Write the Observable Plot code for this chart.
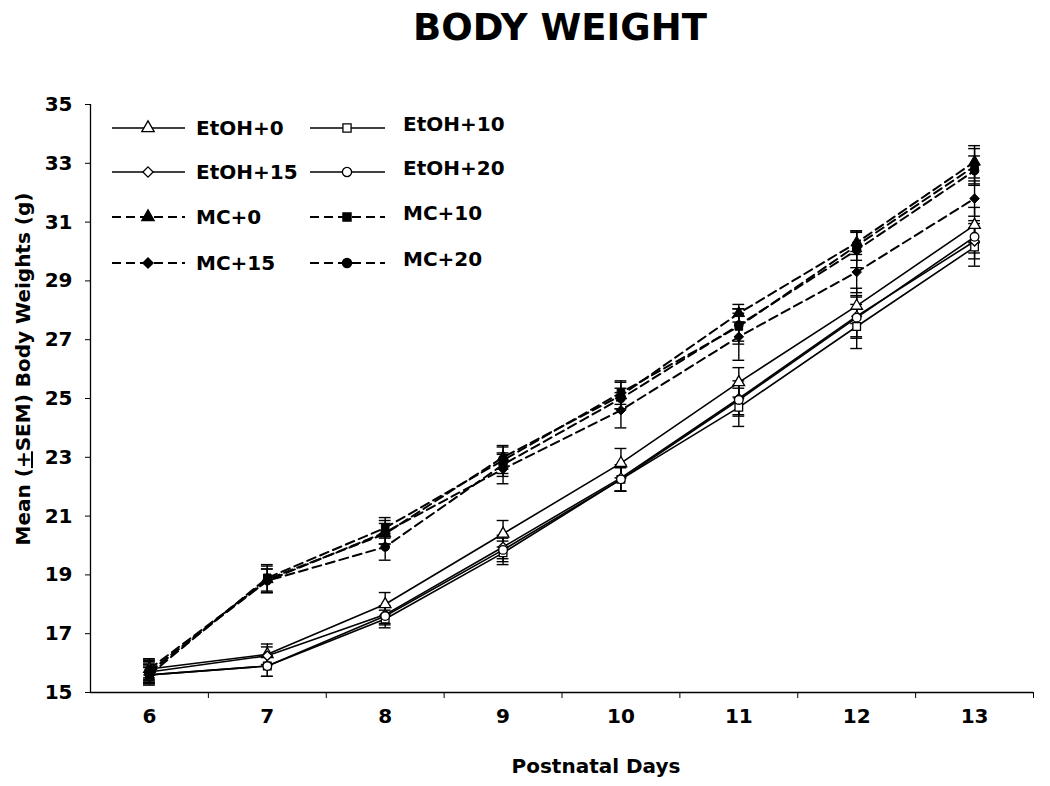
<!DOCTYPE html>
<html>
<head>
<meta charset="utf-8">
<script src="https://cdn.jsdelivr.net/npm/d3@7"></script>
<script src="https://cdn.jsdelivr.net/npm/@observablehq/plot@0.6"></script>
<style>
  body { margin: 0; background: white; font-family: "DejaVu Sans", sans-serif; }
  #title { height: 70px; line-height: 56px; font-size: 37px; font-weight: bold; text-align: center; padding-left: 70px; box-sizing: border-box; width: 1050px; color: black; }
</style>
</head>
<body>
<div id="title">BODY WEIGHT</div>
<div id="chart"></div>
<script>
// ---- data ----
const days = [6, 7, 8, 9, 10, 11, 12, 13];
const xBoundaryTicks = [6.5, 7.5, 8.5, 9.5, 10.5, 11.5, 12.5, 13.5];
const yTicks = [15, 17, 19, 21, 23, 25, 27, 29, 31, 33, 35];
const seriesNames = ["EtOH+0", "EtOH+10", "EtOH+15", "EtOH+20", "MC+0", "MC+10", "MC+15", "MC+20"];

const etoh0  = [15.8, 16.3, 18.0, 20.4, 22.8, 25.55, 28.15, 30.9];
const etoh10 = [15.6, 15.9, 17.5, 19.75, 22.25, 24.7, 27.45, 30.15];
const etoh15 = [15.7, 16.25, 17.65, 19.95, 22.3, 25.0, 27.8, 30.35];
const etoh20 = [15.6, 15.9, 17.6, 19.85, 22.25, 24.95, 27.75, 30.5];
const mc0    = [15.7, 18.85, 20.4, 23.0, 25.1, 27.9, 30.3, 33.05];
const mc10   = [15.6, 18.9, 20.6, 22.9, 25.2, 27.45, 30.2, 32.9];
const mc15   = [15.8, 18.8, 20.45, 22.6, 24.6, 27.1, 29.3, 31.8];
const mc20   = [15.7, 18.8, 19.95, 22.75, 25.0, 27.5, 30.05, 32.75];

const semEtoh0  = [0.3, 0.35, 0.4, 0.45, 0.5, 0.5, 0.6, 0.6];
const semEtoh10 = [0.25, 0.35, 0.3, 0.4, 0.4, 0.65, 0.75, 0.65];
const semEtoh15 = [0.3, 0.3, 0.3, 0.4, 0.45, 0.6, 0.7, 0.6];
const semEtoh20 = [0.3, 0.35, 0.3, 0.4, 0.4, 0.5, 0.7, 0.55];
const semMc0    = [0.4, 0.45, 0.35, 0.4, 0.45, 0.3, 0.4, 0.55];
const semMc10   = [0.35, 0.45, 0.35, 0.45, 0.4, 0.6, 0.5, 0.6];
const semMc15   = [0.35, 0.4, 0.4, 0.5, 0.6, 0.8, 0.7, 0.6];
const semMc20   = [0.35, 0.4, 0.45, 0.4, 0.35, 0.55, 0.6, 0.5];

const seriesValues = [etoh0, etoh10, etoh15, etoh20, mc0, mc10, mc15, mc20];
const seriesSems = [semEtoh0, semEtoh10, semEtoh15, semEtoh20, semMc0, semMc10, semMc15, semMc20];

// ---- build table ----
const rows = [];
seriesNames.forEach((name, i) => {
  days.forEach((day, j) => {
    rows.push({series: name, group: name.startsWith("MC") ? "MC" : "EtOH", day, value: seriesValues[i][j], sem: seriesSems[i][j]});
  });
});
const etohRows = rows.filter(d => d.group === "EtOH");
const mcRows = rows.filter(d => d.group === "MC");

const diamondSym = d3.symbolDiamond2 || d3.symbolDiamond;
const shapeList = [d3.symbolTriangle, d3.symbolSquare, diamondSym, d3.symbolCircle];
const symbolRange = seriesNames.map((n, i) => shapeList[i % 4]);

const capHalf = 0.05;
const font = "DejaVu Sans";

const svg = Plot.plot({
  width: 1050,
  height: 716,
  marginTop: 34,
  marginBottom: 94,
  marginLeft: 90,
  marginRight: 17,
  style: {fontFamily: font, fontSize: "20px", fontWeight: "bold", background: "white", color: "black", overflow: "visible"},
  x: {domain: [5.5, 13.5]},
  y: {domain: [15, 35]},
  symbol: {domain: seriesNames, range: symbolRange},
  marks: [
    Plot.axisY({ticks: yTicks, tickSize: 5, tickPadding: 13, label: null, fontSize: 20, fontWeight: "bold", tickFormat: d => d}),
    Plot.axisX({ticks: xBoundaryTicks, tickSize: 6, tickFormat: () => "", label: null}),
    Plot.axisX({ticks: days, tickSize: 0, tickPadding: 16, label: null, fontSize: 20, fontWeight: "bold", tickFormat: d => d}),
    Plot.ruleX([5.5], {strokeWidth: 1.3}),
    Plot.ruleY([15], {strokeWidth: 1.3}),
    Plot.line(etohRows, {x: "day", y: "value", z: "series", stroke: "black", strokeWidth: 1.6}),
    Plot.line(mcRows, {x: "day", y: "value", z: "series", stroke: "black", strokeWidth: 2, strokeDasharray: "9,5"}),
    Plot.ruleX(rows, {x: "day", y1: d => d.value - d.sem, y2: d => d.value + d.sem, stroke: "black", strokeWidth: 1.4}),
    Plot.ruleY(rows, {y: d => d.value + d.sem, x1: d => d.day - capHalf, x2: d => d.day + capHalf, stroke: "black", strokeWidth: 1.4}),
    Plot.ruleY(rows, {y: d => d.value - d.sem, x1: d => d.day - capHalf, x2: d => d.day + capHalf, stroke: "black", strokeWidth: 1.4}),
    Plot.dot(etohRows, {x: "day", y: "value", symbol: "series", r: 4.3, fill: "white", stroke: "black", strokeWidth: 1.3}),
    Plot.dot(mcRows, {x: "day", y: "value", symbol: "series", r: 4.3, fill: "black", stroke: "black", strokeWidth: 1})
  ]
});

const s = d3.select(svg);

// legend
const legendCols = [{lineX1: 112, lineX2: 185, markX: 148, textX: 196, dy: 0}, {lineX1: 310, lineX2: 385, markX: 347, textX: 403, dy: -4}];
const legendRowsY = [58, 102, 147, 193];
const lg = s.append("g").attr("font-family", font).attr("font-size", 20).attr("font-weight", "bold").attr("text-anchor", "start");
seriesNames.forEach((name, i) => {
  const row = Math.floor(i / 2), col = legendCols[i % 2];
  const y = legendRowsY[row];
  const mc = name.startsWith("MC");
  lg.append("line").attr("x1", col.lineX1).attr("x2", col.lineX2).attr("y1", y).attr("y2", y)
    .attr("stroke", "black").attr("stroke-width", mc ? 1.8 : 1.4).attr("stroke-dasharray", mc ? "9,5" : null);
  lg.append("path").attr("d", d3.symbol(symbolRange[i], Math.PI * 4.6 * 4.6)())
    .attr("transform", `translate(${col.markX},${y})`)
    .attr("fill", mc ? "black" : "white").attr("stroke", "black").attr("stroke-width", 1.3);
  lg.append("text").attr("x", col.textX).attr("y", y + 7 + col.dy).attr("fill", "black").attr("text-anchor", "start").text(name);
});

// y axis title
const yt = s.append("text").attr("font-family", font).attr("font-size", 20).attr("font-weight", "bold")
  .attr("text-anchor", "middle").attr("fill", "black")
  .attr("transform", "translate(30,299) rotate(-90)");
yt.append("tspan").text("Mean (");
yt.append("tspan").attr("text-decoration", "underline").text("+");
yt.append("tspan").text("SEM) Body Weights (g)");

// x axis title
s.append("text").attr("font-family", font).attr("font-size", 20).attr("font-weight", "bold")
  .attr("text-anchor", "middle").attr("fill", "black")
  .attr("x", 596).attr("y", 703).text("Postnatal Days");

document.getElementById("chart").appendChild(svg);
</script>
</body>
</html>
